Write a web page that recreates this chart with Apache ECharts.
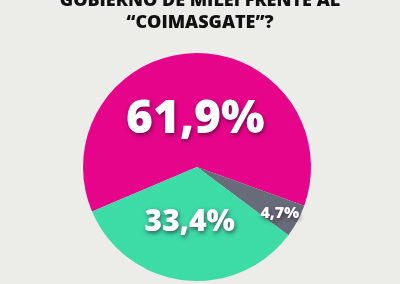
<!DOCTYPE html>
<html>
<head>
<meta charset="utf-8">
<script src="https://cdn.jsdelivr.net/npm/echarts@6/dist/echarts.min.js"></script>
<style>
html,body{margin:0;padding:0;background:#ecece9;}
#c{width:400px;height:284px;}
</style>
</head>
<body>
<div id="c"></div>
<script>
const titleLines = ['GOBIERNO DE MILEI FRENTE AL', '“COIMASGATE”?'];
const categories = ['Desaprueba', 'No sabe', 'Aprueba'];
const values = [61.9, 4.7, 33.4];
const colors = ['#e6058a', '#686b7a', '#3ddba6'];
const labelSizes = [46, 16, 30];
const labelOffsets = [[0, 13], [30, 18], [0, -4]];

const chart = echarts.init(document.getElementById('c'), null, {renderer: 'canvas'});
chart.setOption({
  backgroundColor: '#ecece9',
  animation: false,
  title: {
    text: titleLines.join('\n'),
    left: 'center',
    top: -15,
    textStyle: {
      fontFamily: 'Open Sans',
      fontWeight: 800,
      fontSize: 18,
      lineHeight: 22,
      color: '#111111'
    }
  },
  series: [{
    type: 'pie',
    center: [197, 167],
    radius: [0, 114],
    startAngle: 203,
    clockwise: true,
    avoidLabelOverlap: false,
    itemStyle: {borderWidth: 0},
    labelLine: {show: false},
    data: categories.map((n, i) => ({
      name: n,
      value: values[i],
      itemStyle: {color: colors[i]},
      label: {
        show: true,
        position: 'inside',
        offset: labelOffsets[i],
        fontSize: labelSizes[i],
        fontFamily: 'Open Sans',
        fontWeight: 800,
        color: '#ffffff',
        textShadowColor: 'rgba(40,0,30,0.6)',
        textShadowBlur: 4,
        textShadowOffsetX: 1,
        textShadowOffsetY: 2,
        formatter: p => p.value.toFixed(1).replace('.', ',') + '%'
      }
    }))
  }]
});
</script>
</body>
</html>
